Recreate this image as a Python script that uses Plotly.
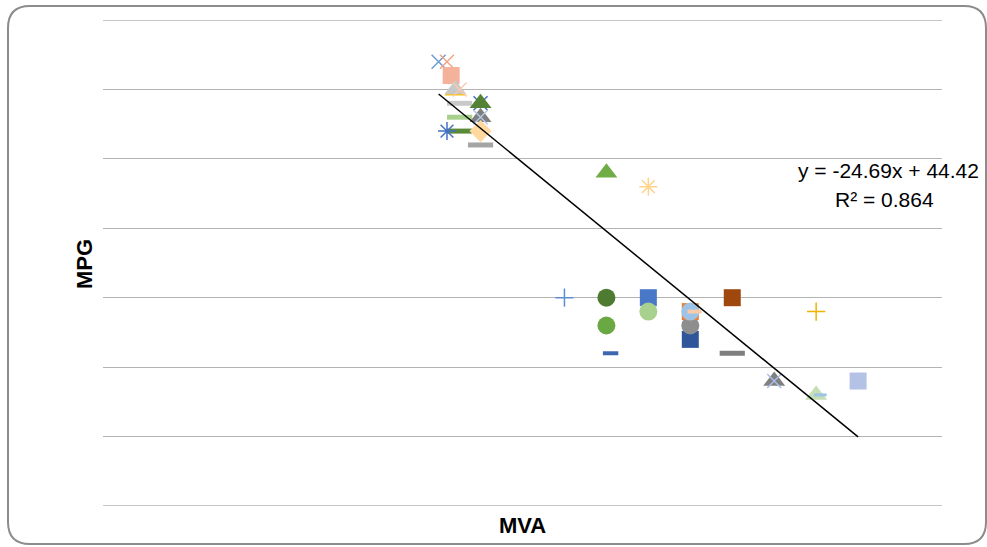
import plotly.graph_objects as go

# ---- data ----
mva = [0.80, 0.82, 0.83, 0.84, 0.84, 0.85, 0.85, 0.90, 0.90, 0.85, 0.90, 0.90, 0.85, 0.82, 0.90, 0.90,
       1.20, 1.30, 1.10, 1.20, 1.20, 1.21, 1.30, 1.30, 1.40, 1.40, 1.40, 1.40, 1.41, 1.50, 1.50, 1.70,
       1.60, 1.60, 1.70, 1.71, 1.80]
mpg = [27, 27, 26, 24.9, 25, 25, 24, 24, 24, 23, 23, 23, 22, 22, 22, 21,
       19, 18, 10, 10, 8, 6, 10, 9, 7, 8, 9, 9, 9, 10, 6, 9,
       4, 4, 3, 3, 4]
trend_slope = -24.69
trend_intercept = 44.42
r_squared = 0.864

# ---- styles, one per point ----
symbols = ["x-thin", "x-thin", "square", "triangle-up", "triangle-up", "x-thin", "line-ew", "x-thin",
           "triangle-up", "line-ew", "triangle-up", "x-thin", "line-ew", "asterisk", "diamond", "line-ew",
           "triangle-up", "asterisk", "cross-thin", "circle", "circle", "line-ew", "square", "circle",
           "square", "circle", "square", "circle", "line-ew", "square", "line-ew", "cross-thin",
           "triangle-up", "x-thin", "triangle-up", "line-ew", "square"]
colors = ["#6F9BD6", "#F4A684", "#F4B29A", "#FFC000", "#C8C8C8", "#F8CBAD", "#C9C9C9", "#4472C4",
          "#548235", "#A9D18E", "#7F7F7F", "#B4C7E7", "#5A8A39", "#4472C4", "#FFD9A0", "#A5A5A5",
          "#70AD47", "#FFD48A", "#5B8FD0", "#4E7B31", "#6AA843", "#3E66AE", "#4A78C8", "#A9D18E",
          "#2F559A", "#8E8E8E", "#ED7D31", "#9DC3E6", "#F8CBAD", "#9E480E", "#7F7F7F", "#F0B400",
          "#808080", "#A9BCE8", "#C5DEB5", "#9DC3E6", "#B4C2E6"]
sizes = []
lwidths = []
for s in symbols:
    if s == "line-ew":
        sizes.append(18); lwidths.append(5)
    elif s == "x-thin":
        sizes.append(14); lwidths.append(1.5)
    elif s == "cross-thin":
        sizes.append(13); lwidths.append(1.5)
    elif s == "asterisk":
        sizes.append(15); lwidths.append(1.5)
    elif s == "square":
        sizes.append(17); lwidths.append(0)
    elif s == "circle":
        sizes.append(18); lwidths.append(0)
    elif s == "diamond":
        sizes.append(17); lwidths.append(0)
    else:
        sizes.append(19); lwidths.append(0)
# smaller dashes
sizes[21] = 11; lwidths[21] = 4
sizes[28] = 10; lwidths[28] = 4
sizes[35] = 9; lwidths[35] = 3

fig = go.Figure()
fig.add_trace(go.Scatter(
    x=mva, y=mpg, mode="markers", showlegend=False, hoverinfo="x+y",
    marker=dict(symbol=symbols, color=colors, size=sizes, opacity=1,
                line=dict(color=colors, width=lwidths)),
))

# linear trendline over the data range
x0, x1 = min(mva), max(mva)
fig.add_trace(go.Scatter(
    x=[x0, x1], y=[trend_slope * x0 + trend_intercept, trend_slope * x1 + trend_intercept],
    mode="lines", line=dict(color="black", width=1.5), showlegend=False, hoverinfo="skip",
))

# plot area geometry in pixels
L, R, T, B = 103, 942, 20, 506
W, H = 987, 547
Y_MIN, Y_MAX = -5, 30


def px(xp):
    return (xp - L) / (R - L)


def py(yp):
    return (B - yp) / (B - T)


# rounded chart border
bl, br, bt, bb, rad = 8, 986, 6, 544, 22
path = (f"M {px(bl + rad)},{py(bt)} L {px(br - rad)},{py(bt)} Q {px(br)},{py(bt)} {px(br)},{py(bt + rad)} "
        f"L {px(br)},{py(bb - rad)} Q {px(br)},{py(bb)} {px(br - rad)},{py(bb)} "
        f"L {px(bl + rad)},{py(bb)} Q {px(bl)},{py(bb)} {px(bl)},{py(bb - rad)} "
        f"L {px(bl)},{py(bt + rad)} Q {px(bl)},{py(bt)} {px(bl + rad)},{py(bt)} Z")

grid_color = "#B3B3B3"
shapes = [dict(type="path", path=path, xref="paper", yref="paper",
               line=dict(color="#8C8C8C", width=2), layer="below")]
# edge gridlines (plotly omits gridlines on the range ends)
for yv in (Y_MIN, Y_MAX):
    shapes.append(dict(type="line", xref="paper", yref="y", x0=0, x1=1, y0=yv, y1=yv,
                       line=dict(color=grid_color, width=1.3), layer="below"))

font_family = "Liberation Sans, Arial, sans-serif"

fig.update_layout(
    width=W, height=H,
    margin=dict(l=L, r=W - R, t=T, b=H - B),
    paper_bgcolor="white", plot_bgcolor="white",
    font=dict(family=font_family, color="black"),
    xaxis=dict(range=[0, 2], showgrid=False, zeroline=False, showticklabels=False,
               showline=False, ticks=""),
    yaxis=dict(range=[Y_MIN, Y_MAX], tick0=0, dtick=5, showgrid=True, gridcolor=grid_color, gridwidth=1.3,
               zeroline=False, showticklabels=False, showline=False, ticks=""),
    shapes=shapes,
    annotations=[
        dict(text="<b>MVA</b>", x=px(522), y=py(525), xref="paper", yref="paper",
             showarrow=False, font=dict(size=22), xanchor="center", yanchor="middle"),
        dict(text="<b>MPG</b>", x=px(84), y=py(264), xref="paper", yref="paper",
             showarrow=False, font=dict(size=22), textangle=-90, xanchor="center", yanchor="middle"),
        dict(text=f"y = {trend_slope:.2f}x + {trend_intercept:.2f}", x=px(888), y=py(170),
             xref="paper", yref="paper", showarrow=False, font=dict(size=21),
             xanchor="center", yanchor="middle"),
        dict(text=f"R² = {r_squared:.3f}", x=px(884), y=py(199),
             xref="paper", yref="paper", showarrow=False, font=dict(size=21),
             xanchor="center", yanchor="middle"),
    ],
)

fig.write_html("out.html", config={"displayModeBar": False},
               post_script="document.body.style.margin='0';document.body.style.overflow='hidden';")
